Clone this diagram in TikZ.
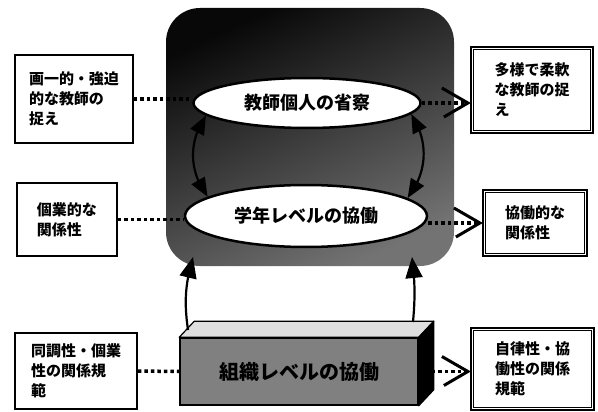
\documentclass[tikz,border=0pt]{standalone}
\usepackage{fontspec}
\newfontfamily\jp{Noto Sans CJK JP}
\usetikzlibrary{arrows.meta,calc,shapes.geometric,bending}
\begin{document}
\begin{tikzpicture}[x=1pt,y=-1pt,
  lbox/.style={draw, line width=1.6pt, align=left, inner sep=0pt,
    font=\jp\bfseries\fontsize{15}{20}\selectfont},
  rbox/.style={lbox, line width=2.2pt,
    append after command={\pgfextra{\draw[line width=0.9pt]
      ([shift={(3.5pt,-3.5pt)}]\tikzlastnode.north west) rectangle
      ([shift={(-3.5pt,3.5pt)}]\tikzlastnode.south east);}}},
  oval/.style={ellipse, draw, line width=2.5pt, fill=white, inner sep=0pt,
    font=\jp\bfseries\fontsize{18}{18}\selectfont},
  dotl/.style={line width=3.5pt, dash pattern=on 3.5pt off 3pt},
  chev/.style={line width=3pt, miter limit=10},
  arw/.style={line width=2.2pt}
]
\useasboundingbox (0,0) rectangle (598,412);

% shaded background
\node[rounded corners=34pt, minimum width=288pt, minimum height=258pt, inner sep=0pt,
  top color=black!97, bottom color=black!55, shading angle=25] (bg) at (310,137) {};

% ellipses
\node[oval, minimum width=227pt, minimum height=50pt] (e1) at (307,103) {教師個人の省察};
\node[oval, minimum width=242pt, minimum height=62pt] (e2) at (306,216) {学年レベルの協働};

% arrows between ellipses
\draw[arw, {Triangle[length=19pt,width=15pt]}-{Triangle[length=19pt,width=15pt]}]
  (e1.187) to[bend right=35] (e2.169);
\draw[arw, {Triangle[length=19pt,width=15pt]}-{Triangle[length=19pt,width=15pt]}]
  (e1.354) to[bend left=35] (e2.10);

% bottom box
\node[draw, line width=1.5pt, fill=black!50, minimum width=238pt, minimum height=67pt,
  font=\jp\bfseries\fontsize{20}{20}\selectfont] (bx) at (299,371.5) {組織レベルの協働};
\filldraw[fill=black!12, line width=1.2pt, line join=round]
  (bx.north west) -- ++(15,-16) -- ($(bx.north east)+(15,-16)$) -- (bx.north east) -- cycle;
\filldraw[fill=black, line width=1.2pt, line join=round]
  (bx.north east) -- ++(15,-16) -- ($(bx.south east)+(15,-16)$) -- (bx.south east) -- cycle;

% arrows from bottom box
\coordinate (s1) at (188,330);
\coordinate (u1) at (193,257);
\coordinate (s2) at (413,322);
\coordinate (u2) at (412,257);
\draw[arw, -{Triangle[length=21pt,width=17pt]}] (s1) to[bend left=12] (u1);
\draw[arw, -{Triangle[length=21pt,width=17pt]}] (s2) to[bend right=6] (u2);

% left boxes
\node[lbox, minimum width=118pt, minimum height=88pt] (l1) at (74,99) {画一的・強迫\\的な教師の\\捉え};
\node[lbox, minimum width=100pt, minimum height=73pt] (l2) at (67,219.5) {個業的な\\関係性};
\node[lbox, minimum width=122pt, minimum height=76pt] (l3) at (76,371) {同調性・個業\\性の関係規\\範};

% right boxes
\node[rbox, minimum width=122pt, minimum height=86pt] (r1) at (532,90) {多様で柔軟\\な教師の捉\\え};
\node[rbox, minimum width=104pt, minimum height=66pt] (r2) at (535,223) {協働的な\\関係性};
\node[rbox, minimum width=123pt, minimum height=82pt] (r3) at (532.5,369) {自律性・協\\働性の関係\\規範};

% left dotted connectors
\draw[dotl] (l1.east) -- (l1.east -| e1.west);
\draw[dotl] (l2.east) -- (l2.east -| e2.west);
\draw[dotl] (l3.east) -- (bx.west);

% right dotted connectors with chevrons
\coordinate (t1) at ($(e1.east -| r1.west)+(-2,0)$);
\coordinate (t2) at ($(r2.west)+(-2,0)$);
\coordinate (t3) at ($(bx.east -| r3.west)+(-2,0)$);
\draw[dotl] (e1.east) -- (t1);
\draw[dotl] (e2.east |- r2.west) -- (t2);
\draw[dotl] (bx.east) -- (t3);
\foreach \t in {t1,t2,t3}
  \draw[chev] ($(\t)+(-26,-15)$) -- (\t) -- ($(\t)+(-24,14)$);
\end{tikzpicture}
\end{document}
